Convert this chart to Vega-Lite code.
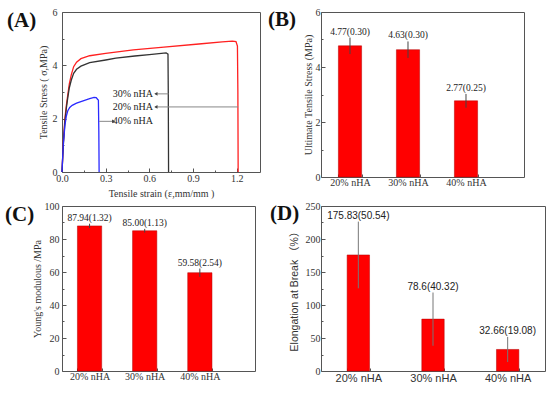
{
"$schema": "https://vega.github.io/schema/vega-lite/v6.json",
"autosize": {"type": "none"},
"padding": {"left": 62, "top": 12, "right": 488, "bottom": 384},
"background": "white",
"columns": 2,
"align": "none",
"bounds": "flush",
"spacing": {"row": 29, "column": 61},
"config": {
  "view": {"stroke": "#555555", "strokeWidth": 1},
  "axis": {"grid": false, "domain": false, "labelOverlap": false, "labelFlush": false, "tickColor": "#555555", "tickSize": -3, "labelFont": "Liberation Serif", "titleFont": "Liberation Serif", "labelFontSize": 10, "titleFontSize": 10, "titleFontWeight": "normal", "labelColor": "#333333", "titleColor": "#333333"},
  "title": {"font": "Liberation Serif", "fontSize": 21, "fontWeight": "bold", "anchor": "start", "frame": "group", "color": "#111111"}
},
"concat": [
{
  "width": 198, "height": 160,
  "title": {"text": "(A)", "dx": -55, "dy": 28},
  "layer": [
    {
      "data": {"values": [
        {"sample":"20% nHA","strain":0,"stress":0},
        {"sample":"20% nHA","strain":0.01,"stress":1.2},
        {"sample":"20% nHA","strain":0.02,"stress":2.0},
        {"sample":"20% nHA","strain":0.03,"stress":2.5},
        {"sample":"20% nHA","strain":0.04,"stress":2.9},
        {"sample":"20% nHA","strain":0.05,"stress":3.3},
        {"sample":"20% nHA","strain":0.064,"stress":3.65},
        {"sample":"20% nHA","strain":0.08,"stress":3.95},
        {"sample":"20% nHA","strain":0.1,"stress":4.12},
        {"sample":"20% nHA","strain":0.13,"stress":4.25},
        {"sample":"20% nHA","strain":0.19,"stress":4.36},
        {"sample":"20% nHA","strain":0.3,"stress":4.45},
        {"sample":"20% nHA","strain":0.49,"stress":4.58},
        {"sample":"20% nHA","strain":0.7,"stress":4.68},
        {"sample":"20% nHA","strain":0.94,"stress":4.8},
        {"sample":"20% nHA","strain":1.1,"stress":4.88},
        {"sample":"20% nHA","strain":1.17,"stress":4.91},
        {"sample":"20% nHA","strain":1.195,"stress":4.89},
        {"sample":"20% nHA","strain":1.205,"stress":4.72},
        {"sample":"20% nHA","strain":1.208,"stress":3.0},
        {"sample":"20% nHA","strain":1.21,"stress":0},
        {"sample":"30% nHA","strain":0,"stress":0},
        {"sample":"30% nHA","strain":0.01,"stress":1.1},
        {"sample":"30% nHA","strain":0.02,"stress":1.9},
        {"sample":"30% nHA","strain":0.03,"stress":2.4},
        {"sample":"30% nHA","strain":0.04,"stress":2.8},
        {"sample":"30% nHA","strain":0.05,"stress":3.15},
        {"sample":"30% nHA","strain":0.064,"stress":3.45},
        {"sample":"30% nHA","strain":0.08,"stress":3.7},
        {"sample":"30% nHA","strain":0.1,"stress":3.85},
        {"sample":"30% nHA","strain":0.13,"stress":3.97},
        {"sample":"30% nHA","strain":0.19,"stress":4.1},
        {"sample":"30% nHA","strain":0.3,"stress":4.2},
        {"sample":"30% nHA","strain":0.37,"stress":4.27},
        {"sample":"30% nHA","strain":0.5,"stress":4.35},
        {"sample":"30% nHA","strain":0.6,"stress":4.4},
        {"sample":"30% nHA","strain":0.715,"stress":4.47},
        {"sample":"30% nHA","strain":0.728,"stress":4.42},
        {"sample":"30% nHA","strain":0.73,"stress":3.0},
        {"sample":"30% nHA","strain":0.732,"stress":0},
        {"sample":"40% nHA","strain":0,"stress":0},
        {"sample":"40% nHA","strain":0.005,"stress":0.6},
        {"sample":"40% nHA","strain":0.01,"stress":1.1},
        {"sample":"40% nHA","strain":0.02,"stress":1.75},
        {"sample":"40% nHA","strain":0.03,"stress":2.1},
        {"sample":"40% nHA","strain":0.04,"stress":2.3},
        {"sample":"40% nHA","strain":0.053,"stress":2.42},
        {"sample":"40% nHA","strain":0.07,"stress":2.5},
        {"sample":"40% nHA","strain":0.1,"stress":2.58},
        {"sample":"40% nHA","strain":0.15,"stress":2.68},
        {"sample":"40% nHA","strain":0.19,"stress":2.75},
        {"sample":"40% nHA","strain":0.22,"stress":2.8},
        {"sample":"40% nHA","strain":0.235,"stress":2.79},
        {"sample":"40% nHA","strain":0.245,"stress":2.72},
        {"sample":"40% nHA","strain":0.25,"stress":2.7},
        {"sample":"40% nHA","strain":0.253,"stress":1.5},
        {"sample":"40% nHA","strain":0.255,"stress":0}
      ]},
      "mark": {"type": "line", "strokeWidth": 1.3},
      "encoding": {
        "x": {"field": "strain", "type": "quantitative", "title": "Tensile strain (ε,mm/mm )", "scale": {"domain": [0, 1.36], "nice": false, "zero": false},
              "axis": {"values": [0,0.15,0.3,0.45,0.6,0.75,0.9,1.05,1.2], "tickCount": 50, "format": ".1f", "labelOverlap": false, "labelFlush": false, "labelExpr": "round(datum.value*20) % 6 === 0 ? datum.label : ''", "tickSize": {"condition": {"test": "round(datum.value*20) % 6 === 0", "value": -4}, "value": -2}, "labelPadding": 5, "titlePadding": 3}},
        "y": {"field": "stress", "type": "quantitative", "title": "Tensile Stress ( σ,MPa)", "scale": {"domain": [0, 6], "nice": false},
              "axis": {"values": [0,1,2,3,4,5,6], "tickCount": 50, "format": "d", "labelOverlap": false, "labelFlush": false, "labelExpr": "datum.value % 2 === 0 ? datum.label : ''", "tickSize": {"condition": {"test": "datum.value % 2 === 0", "value": -4}, "value": -2}, "labelPadding": 9, "titlePadding": 4}},
        "color": {"field": "sample", "type": "nominal", "scale": {"domain": ["20% nHA","30% nHA","40% nHA"], "range": ["#ff2020","#333333","#2a2aff"]}, "legend": null}
      }
    },
    {
      "data": {"name": "ann", "values": [
        {"label":"30% nHA","y":2.93,"tx":0.625,"lx1":0.64,"lx2":0.732,"ax":0.645,"side":"left"},
        {"label":"20% nHA","y":2.44,"tx":0.625,"lx1":0.64,"lx2":1.21,"ax":0.645,"side":"left"},
        {"label":"40% nHA","y":1.9,"tx":0.625,"lx1":0.255,"lx2":0.35,"ax":0.355,"side":"right"}
      ]},
      "layer": [
        {
          "mark": {"type": "rule", "color": "#888888", "strokeWidth": 1},
          "encoding": {
            "x": {"field": "lx1", "type": "quantitative", "title": "Tensile strain (ε,mm/mm )", "scale": {"domain": [0, 1.36], "nice": false, "zero": false}},
            "x2": {"field": "lx2"},
            "y": {"field": "y", "type": "quantitative", "title": "Tensile Stress ( σ,MPa)", "scale": {"domain": [0, 6], "nice": false}}
          }
        },
        {
          "mark": {"type": "text", "align": "right", "baseline": "middle", "font": "Liberation Serif", "fontSize": 10, "color": "#222222"},
          "encoding": {
            "x": {"field": "tx", "type": "quantitative", "title": "Tensile strain (ε,mm/mm )", "scale": {"domain": [0, 1.36], "nice": false, "zero": false}},
            "y": {"field": "y", "type": "quantitative", "title": "Tensile Stress ( σ,MPa)", "scale": {"domain": [0, 6], "nice": false}},
            "text": {"field": "label"}
          }
        },
        {
          "mark": {"type": "point", "filled": true, "size": 14, "color": "#444444", "opacity": 1},
          "encoding": {
            "x": {"field": "ax", "type": "quantitative", "title": "Tensile strain (ε,mm/mm )", "scale": {"domain": [0, 1.36], "nice": false, "zero": false}},
            "y": {"field": "y", "type": "quantitative", "title": "Tensile Stress ( σ,MPa)", "scale": {"domain": [0, 6], "nice": false}},
            "shape": {"field": "side", "type": "nominal", "scale": {"domain": ["left","right"], "range": ["triangle-left","triangle-right"]}, "legend": null}
          }
        }
      ]
    }
  ]
},
{
  "width": 203, "height": 165,
  "title": {"text": "(B)", "dx": -53, "dy": 27},
  "data": {"values": [
    {"group":"20% nHA","value":4.77,"sd":0.30,"label":"4.77(0.30)"},
    {"group":"30% nHA","value":4.63,"sd":0.30,"label":"4.63(0.30)"},
    {"group":"40% nHA","value":2.77,"sd":0.25,"label":"2.77(0.25)"}
  ]},
  "encoding": {
    "x": {"field": "group", "type": "nominal", "sort": null, "title": null, "scale": {"paddingInner": 0.6, "paddingOuter": 0.55, "align": 0.2727},
          "axis": {"labelAngle": 0, "tickBand": "extent", "tickSize": -3, "labelPadding": 3}}
  },
  "layer": [
    {
      "mark": {"type": "bar", "color": "#ff0000", "stroke": "#b00000", "strokeWidth": 0.5},
      "encoding": {
        "y": {"field": "value", "type": "quantitative", "title": "Ultimate Tensile Stress (MPa)", "scale": {"domain": [0, 6], "nice": false},
              "axis": {"values": [0,1,2,3,4,5,6], "tickCount": 50, "format": "d", "labelOverlap": false, "labelFlush": false, "labelExpr": "datum.value % 2 === 0 ? datum.label : ''", "tickSize": {"condition": {"test": "datum.value % 2 === 0", "value": -4}, "value": -2}, "labelPadding": 5, "titlePadding": 2}}
      }
    },
    {
      "mark": {"type": "errorbar", "color": "#444444", "thickness": 1},
      "encoding": {
        "y": {"field": "value", "type": "quantitative", "title": "Ultimate Tensile Stress (MPa)"},
        "yError": {"field": "sd"}
      }
    },
    {
      "transform": [{"calculate": "datum.value + datum.sd", "as": "top"}],
      "mark": {"type": "text", "baseline": "middle", "dy": -6, "font": "Liberation Serif", "fontSize": 9.5, "color": "#222222"},
      "encoding": {
        "y": {"field": "top", "type": "quantitative", "title": "Ultimate Tensile Stress (MPa)"},
        "text": {"field": "label"}
      }
    }
  ]
},
{
  "width": 193, "height": 165,
  "title": {"text": "(C)", "dx": -57, "dy": 28},
  "data": {"values": [
    {"group":"20% nHA","value":87.94,"sd":1.32,"label":"87.94(1.32)"},
    {"group":"30% nHA","value":85.00,"sd":1.13,"label":"85.00(1.13)"},
    {"group":"40% nHA","value":59.58,"sd":2.54,"label":"59.58(2.54)"}
  ]},
  "encoding": {
    "x": {"field": "group", "type": "nominal", "sort": null, "title": null, "scale": {"paddingInner": 0.56, "paddingOuter": 0.53, "align": 0.264},
          "axis": {"labelAngle": 0, "tickBand": "extent", "tickSize": -3, "labelPadding": 3}}
  },
  "layer": [
    {
      "mark": {"type": "bar", "color": "#ff0000", "stroke": "#b00000", "strokeWidth": 0.5},
      "encoding": {
        "y": {"field": "value", "type": "quantitative", "title": "Young's modulous /MPa", "scale": {"domain": [0, 100], "nice": false},
              "axis": {"values": [0,10,20,30,40,50,60,70,80,90,100], "tickCount": 50, "format": "d", "labelOverlap": false, "labelFlush": false, "labelExpr": "datum.value % 20 === 0 ? datum.label : ''", "tickSize": {"condition": {"test": "datum.value % 20 === 0", "value": -4}, "value": -2}, "labelPadding": 7, "titlePadding": 2}}
      }
    },
    {
      "mark": {"type": "errorbar", "color": "#444444", "thickness": 1},
      "encoding": {
        "y": {"field": "value", "type": "quantitative", "title": "Young's modulous /MPa"},
        "yError": {"field": "sd"}
      }
    },
    {
      "transform": [{"calculate": "datum.value + datum.sd", "as": "top"}],
      "mark": {"type": "text", "baseline": "middle", "dy": -6, "font": "Liberation Serif", "fontSize": 9.5, "color": "#222222"},
      "encoding": {
        "y": {"field": "top", "type": "quantitative", "title": "Young's modulous /MPa"},
        "text": {"field": "label"}
      }
    }
  ]
},
{
  "width": 224, "height": 165,
  "title": {"text": "(D)", "dx": -51, "dy": 27},
  "data": {"values": [
    {"group":"20% nHA","value":175.83,"sd":50.54,"label":"175.83(50.54)"},
    {"group":"30% nHA","value":78.6,"sd":40.32,"label":"78.6(40.32)"},
    {"group":"40% nHA","value":32.66,"sd":19.08,"label":"32.66(19.08)"}
  ]},
  "encoding": {
    "x": {"field": "group", "type": "nominal", "sort": null, "title": null, "scale": {"paddingInner": 0.7, "paddingOuter": 0.35},
          "axis": {"labelAngle": 0, "tickBand": "extent", "tickSize": -3, "labelPadding": 4, "labelFont": "Liberation Sans", "labelFontSize": 11}}
  },
  "layer": [
    {
      "mark": {"type": "bar", "color": "#ff0000", "stroke": "#b00000", "strokeWidth": 0.5},
      "encoding": {
        "y": {"field": "value", "type": "quantitative", "title": "Elongation at Break （%）", "scale": {"domain": [0, 250], "nice": false},
              "axis": {"values": [0,25,50,75,100,125,150,175,200,225,250], "tickCount": 50, "format": "d", "labelOverlap": false, "labelFlush": false, "labelExpr": "datum.value % 50 === 0 ? datum.label : ''", "tickSize": {"condition": {"test": "datum.value % 50 === 0", "value": -4}, "value": -2}, "labelPadding": 5, "titlePadding": 6, "titleFont": "Liberation Sans, Noto Sans CJK SC", "titleFontSize": 10.5}}
      }
    },
    {
      "mark": {"type": "errorbar", "color": "#777777", "thickness": 1},
      "encoding": {
        "y": {"field": "value", "type": "quantitative", "title": "Elongation at Break （%）"},
        "yError": {"field": "sd"}
      }
    },
    {
      "transform": [{"calculate": "datum.value + datum.sd", "as": "top"}],
      "mark": {"type": "text", "baseline": "middle", "dy": -6, "font": "Liberation Sans", "fontSize": 10, "color": "#222222"},
      "encoding": {
        "y": {"field": "top", "type": "quantitative", "title": "Elongation at Break （%）"},
        "text": {"field": "label"}
      }
    }
  ]
}
]
}
